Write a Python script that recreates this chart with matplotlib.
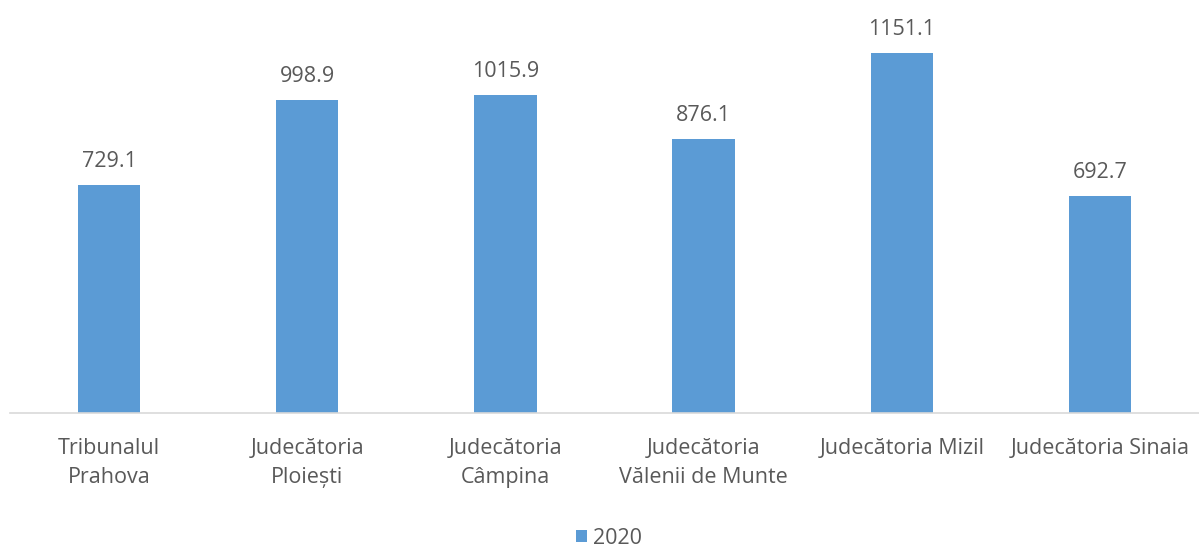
import matplotlib
matplotlib.use("Agg")
import matplotlib.pyplot as plt
import numpy as np

# Datos
categorii = ["Tribunalul\nPrahova", "Judecătoria\nPloiești", "Judecătoria\nCâmpina",
             "Judecătoria\nVălenii de Munte", "Judecătoria Mizil", "Judecătoria Sinaia"]
valori_2020 = [729.1, 998.9, 1015.9, 876.1, 1151.1, 692.7]
serie = "2020"

plt.rcParams["font.family"] = ["Open Sans", "DejaVu Sans"]
TEXT = "#595959"
BLUE = "#5B9BD5"

fig = plt.figure(figsize=(11.99, 5.48), dpi=100)
ax = fig.add_axes([10 / 1199, 135 / 548, 1189 / 1199, 413 / 548])

x = np.arange(len(categorii))
bars = ax.bar(x, valori_2020, width=0.315, color=BLUE, label=serie)
for b, v in zip(bars, valori_2020):
    ax.text(b.get_x() + b.get_width() / 2, v + 42, f"{v:.1f}",
            ha="center", va="bottom", fontsize=15.5, color=TEXT)

ax.set_xlim(-0.5, len(categorii) - 0.5)
ax.set_ylim(0, 1320)
ax.set_xticks(x)
ax.set_xticklabels(categorii, fontsize=15.5, color=TEXT, linespacing=1.5)
ax.tick_params(axis="x", length=0, pad=18)
ax.set_yticks([])
for s in ["top", "right", "left"]:
    ax.spines[s].set_visible(False)
ax.spines["bottom"].set_color("#D9D9D9")
ax.spines["bottom"].set_linewidth(1.2)

fig.legend(handles=[bars], labels=[serie], loc="center", bbox_to_anchor=(0.508, 0.018),
           frameon=False, fontsize=15.5, labelcolor=TEXT, handlelength=0.5,
           handleheight=0.5, handletextpad=0.3)

fig.savefig("out.png", dpi=100)
plt.close(fig)
